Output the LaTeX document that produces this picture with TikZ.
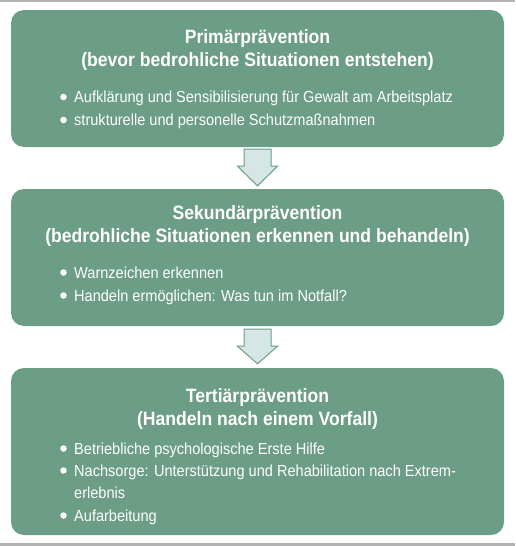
\documentclass[tikz,border=0pt]{standalone}
\usepackage{fontspec}
\setmainfont{Liberation Sans}[FakeStretch=0.91]
\usetikzlibrary{calc}
\definecolor{boxgreen}{RGB}{108,157,134}
\definecolor{arrowfill}{RGB}{214,229,229}
\definecolor{rulegray}{RGB}{178,178,178}
\begin{document}
\begin{tikzpicture}[x=1pt,y=-1pt,
  box/.style={draw=none,fill=boxgreen,rounded corners=13pt,minimum width=493pt,inner sep=0pt},
  title/.style={anchor=base,text=white,font=\bfseries\fontsize{19.3}{22}\selectfont,inner sep=0pt},
  item/.style={anchor=base west,text=white,font=\fontsize{16}{18}\selectfont,inner sep=0pt},
  dot/.style={circle,fill=white,minimum size=6.5pt,inner sep=0pt},
  downarrow/.style={fill=arrowfill,draw=boxgreen,line width=1pt,line join=miter}]
\useasboundingbox (0,0) rectangle (515,546);
\fill[rulegray] (0,0) rectangle (515,1.6);
\fill[rulegray] (0,543.4) rectangle (515,546);
% boxes
\node[box,minimum height=137pt] (b1) at (257.5,78.5) {};
\node[box,minimum height=137pt] (b2) at (257.5,257.5) {};
\node[box,minimum height=167pt] (b3) at (257.5,451.5) {};
% arrows
\draw[downarrow] ($(b1.south)+(-13.5,2)$) -- ($(b1.south)+(13.5,2)$) -- ($(b1.south)+(13.5,19)$)
  -- ($(b1.south)+(20,19)$) -- ($(b2.north)+(0,-3)$) -- ($(b1.south)+(-20,19)$)
  -- ($(b1.south)+(-13.5,19)$) -- cycle;
\draw[downarrow] ($(b2.south)+(-13.5,3)$) -- ($(b2.south)+(13.5,3)$) -- ($(b2.south)+(13.5,20)$)
  -- ($(b2.south)+(20,20)$) -- ($(b3.north)+(0,-4)$) -- ($(b2.south)+(-20,20)$)
  -- ($(b2.south)+(-13.5,20)$) -- cycle;
% box 1 text
\node[title] (t11) at (257.5,43) {Primärprävention};
\node[title] (t12) at (257.5,66.5) {(bevor bedrohliche Situationen entstehen)};
\node[dot] (d11) at (63.5,97) {};
\node[item] (i11) at (74,102.5) {Aufklärung und Sensibilisierung für Gewalt am Arbeitsplatz};
\node[dot] (d12) at (63.5,120) {};
\node[item] (i12) at (74,125.5) {strukturelle und personelle Schutzmaßnahmen};
% box 2 text
\node[title] (t21) at (257.5,219.5) {Sekundärprävention};
\node[title] (t22) at (257.5,242) {(bedrohliche Situationen erkennen und behandeln)};
\node[dot] (d21) at (63.5,272.5) {};
\node[item] (i21) at (74,278) {Warnzeichen erkennen};
\node[dot] (d22) at (63.5,295.5) {};
\node[item] (i22) at (74,301) {Handeln ermöglichen: Was tun im Notfall?};
% box 3 text
\node[title] (t31) at (257.5,402) {Tertiärprävention};
\node[title] (t32) at (257.5,425) {(Handeln nach einem Vorfall)};
\node[dot] (d31) at (63.5,448.5) {};
\node[item] (i31) at (74,454) {Betriebliche psychologische Erste Hilfe};
\node[dot] (d32) at (63.5,470.5) {};
\node[item] (i32) at (74,476) {Nachsorge: Unterstützung und Rehabilitation nach Extrem-};
\node[item] (i33) at (74,498) {erlebnis};
\node[dot] (d34) at (63.5,515.5) {};
\node[item] (i34) at (74,521) {Aufarbeitung};
\end{tikzpicture}
\end{document}
